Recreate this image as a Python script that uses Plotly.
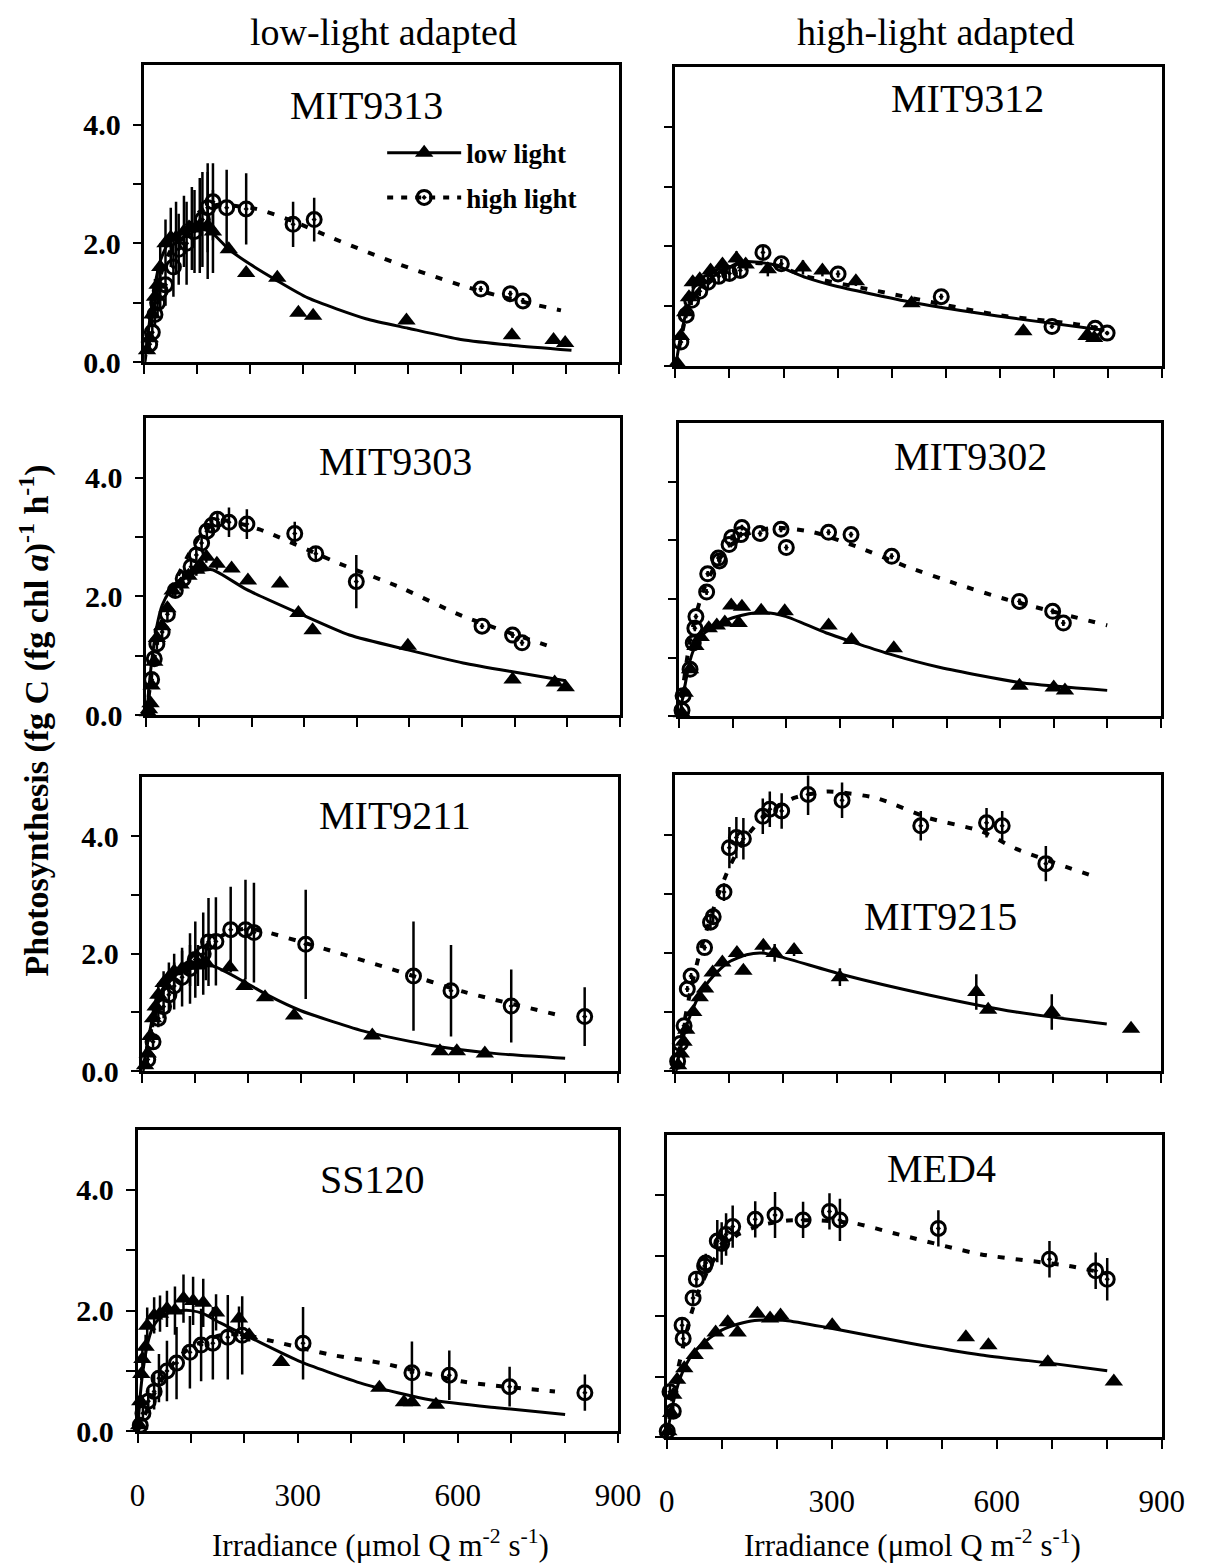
import plotly.graph_objects as go

W, H = 1210, 1567
FONT = "Liberation Serif"

# ---------------- data ----------------
panel_names = ["MIT9313", "MIT9312", "MIT9303", "MIT9302", "MIT9211", "MIT9215", "SS120", "MED4"]
column_headers = ["low-light adapted", "high-light adapted"]
x_tick_vals = [0, 300, 600, 900]
x_tick_labels = ["0", "300", "600", "900"]
y_tick_vals = [0, 2, 4]
y_tick_labels = ["0.0", "2.0", "4.0"]

# MIT9313
mit9313_ll_x = [5, 10, 15, 20, 25, 30, 40, 50, 60, 75, 90, 105, 120, 130, 160, 193, 252, 292, 320, 497, 697, 776, 798]
mit9313_ll_y = [0.2, 0.4, 0.8, 1.1, 1.3, 1.6, 2.0, 2.1, 2.1, 2.2, 2.25, 2.3, 2.3, 2.2, 1.9, 1.5, 1.42, 0.83, 0.78, 0.70, 0.45, 0.37, 0.32]
mit9313_ll_e = [0.05, 0.1, 0.2, 0.3, 0.3, 0.4, 0.4, 0.5, 0.6, 0.6, 0.7, 0.8, 0.9, 0.7, 0, 0, 0, 0, 0, 0, 0, 0, 0]
mit9313_hl_x = [10, 15, 20, 25, 30, 40, 55, 65, 80, 95, 110, 120, 130, 156, 193, 282, 322, 638, 694, 718]
mit9313_hl_y = [0.3, 0.5, 0.8, 1.0, 1.2, 1.3, 1.6, 1.9, 2.0, 2.2, 2.4, 2.6, 2.7, 2.6, 2.58, 2.32, 2.4, 1.23, 1.15, 1.03]
mit9313_hl_e = [0.1, 0.15, 0.2, 0.25, 0.3, 0.35, 0.5, 0.6, 0.7, 0.7, 0.8, 0.75, 0.65, 0.64, 0.6, 0.38, 0.37, 0.05, 0.05, 0.05]
mit9313_llfit_x = [0, 10, 20, 30, 45, 60, 80, 100, 125, 160, 200, 250, 310, 420, 500, 600, 700, 810]
mit9313_llfit_y = [0, 0.7, 1.3, 1.7, 2.0, 2.1, 2.2, 2.25, 2.2, 1.9, 1.65, 1.38, 1.08, 0.73, 0.57, 0.38, 0.28, 0.2]
mit9313_hlfit_x = [0, 10, 20, 30, 45, 60, 80, 100, 120, 140, 212, 280, 359, 482, 605, 700, 790]
mit9313_hlfit_y = [0, 0.6, 1.1, 1.45, 1.8, 2.05, 2.3, 2.5, 2.6, 2.65, 2.58, 2.38, 2.08, 1.65, 1.28, 1.05, 0.87]

# MIT9312
mit9312_ll_x = [3, 10, 18, 25, 32, 45, 65, 87, 113, 130, 171, 236, 272, 334, 437, 644, 761, 775]
mit9312_ll_y = [0.05, 0.5, 0.9, 1.15, 1.4, 1.45, 1.6, 1.7, 1.8, 1.7, 1.62, 1.65, 1.6, 1.42, 1.05, 0.58, 0.5, 0.47]
mit9312_ll_e = [0, 0.05, 0.1, 0.1, 0.1, 0.1, 0.1, 0.1, 0.12, 0.1, 0.12, 0.12, 0.1, 0.08, 0.05, 0, 0, 0]
mit9312_hl_x = [10, 20, 30, 45, 60, 80, 100, 120, 162, 196, 301, 492, 697, 777, 799]
mit9312_hl_y = [0.4, 0.85, 1.1, 1.25, 1.4, 1.5, 1.55, 1.6, 1.9, 1.71, 1.54, 1.16, 0.66, 0.63, 0.55]
mit9312_hl_e = [0.05, 0.05, 0.08, 0.08, 0.1, 0.1, 0.1, 0.1, 0.1, 0.08, 0.06, 0.05, 0.03, 0.05, 0.03]
mit9312_llfit_x = [0, 10, 20, 35, 50, 70, 90, 110, 130, 180, 242, 300, 446, 550, 641, 794]
mit9312_llfit_y = [0, 0.5, 0.9, 1.2, 1.35, 1.5, 1.6, 1.7, 1.75, 1.7, 1.48, 1.33, 1.05, 0.9, 0.78, 0.6]
mit9312_hlfit_x = [0, 10, 20, 35, 50, 70, 90, 110, 130, 180, 242, 366, 592, 741, 800]
mit9312_hlfit_y = [0, 0.45, 0.85, 1.15, 1.3, 1.45, 1.55, 1.65, 1.72, 1.7, 1.5, 1.27, 0.86, 0.7, 0.6]

# MIT9303
mit9303_ll_x = [3, 5, 8, 10, 15, 20, 30, 40, 50, 65, 80, 95, 105, 114, 134, 162, 193, 254, 289, 316, 497, 696, 776, 797]
mit9303_ll_y = [0.05, 0.1, 0.2, 0.5, 0.9, 1.3, 1.5, 1.8, 2.1, 2.2, 2.35, 2.45, 2.5, 2.67, 2.55, 2.47, 2.27, 2.22, 1.72, 1.43, 1.17, 0.6, 0.55, 0.47]
mit9303_ll_e = [0, 0, 0, 0.05, 0.05, 0.1, 0.1, 0.1, 0.1, 0.1, 0.1, 0.1, 0.1, 0.1, 0.1, 0.05, 0, 0, 0, 0, 0, 0, 0, 0]
mit9303_hl_x = [10, 15, 20, 30, 40, 55, 70, 85, 95, 105, 115, 125, 135, 157, 191, 282, 322, 399, 638, 696, 714]
mit9303_hl_y = [0.6, 0.95, 1.2, 1.4, 1.7, 2.1, 2.3, 2.5, 2.7, 2.9, 3.1, 3.2, 3.3, 3.25, 3.22, 3.06, 2.72, 2.25, 1.5, 1.35, 1.22]
mit9303_hl_e = [0.05, 0.05, 0.1, 0.1, 0.1, 0.1, 0.1, 0.1, 0.1, 0.1, 0.1, 0.1, 0.1, 0.25, 0.25, 0.2, 0.1, 0.45, 0.05, 0.05, 0.05]
mit9303_llfit_x = [0, 10, 20, 30, 45, 60, 80, 100, 125, 190, 289, 386, 497, 602, 696, 797]
mit9303_llfit_y = [0, 0.9, 1.5, 1.85, 2.1, 2.25, 2.35, 2.42, 2.45, 2.12, 1.72, 1.35, 1.1, 0.88, 0.73, 0.58]
mit9303_hlfit_x = [0, 10, 20, 30, 45, 60, 80, 100, 125, 150, 215, 368, 478, 601, 776]
mit9303_hlfit_y = [0, 0.7, 1.2, 1.6, 2.0, 2.35, 2.7, 3.0, 3.2, 3.28, 3.13, 2.55, 2.17, 1.67, 1.13]

# MIT9302
mit9302_ll_x = [5, 10, 20, 30, 40, 55, 70, 85, 97, 111, 117, 153, 197, 279, 322, 401, 636, 700, 721]
mit9302_ll_y = [0.05, 0.4, 0.8, 1.2, 1.35, 1.5, 1.55, 1.6, 1.89, 1.59, 1.87, 1.8, 1.79, 1.55, 1.3, 1.16, 0.52, 0.49, 0.44]
mit9302_ll_e = [0, 0.05, 0.05, 0.05, 0.05, 0.05, 0.05, 0.05, 0.05, 0.05, 0.05, 0.05, 0.05, 0.05, 0.05, 0.05, 0, 0, 0]
mit9302_hl_x = [5, 7, 20, 26, 29, 31, 51, 53, 73, 75, 93, 98, 115, 117, 151, 190, 200, 279, 321, 397, 636, 698, 718]
mit9302_hl_y = [0.1, 0.35, 0.8, 1.25, 1.5, 1.7, 2.12, 2.43, 2.7, 2.65, 2.93, 3.05, 3.1, 3.22, 3.12, 3.19, 2.88, 3.14, 3.1, 2.73, 1.96, 1.79, 1.59]
mit9302_hl_e = [0.05] * 23
mit9302_llfit_x = [0, 10, 20, 30, 45, 60, 80, 100, 130, 160, 200, 275, 397, 488, 640, 800]
mit9302_llfit_y = [0, 0.5, 0.95, 1.2, 1.4, 1.5, 1.6, 1.68, 1.75, 1.77, 1.7, 1.42, 1.05, 0.83, 0.57, 0.44]
mit9302_hlfit_x = [0, 10, 20, 30, 45, 60, 80, 100, 130, 178, 251, 336, 426, 518, 609, 800]
mit9302_hlfit_y = [0, 0.7, 1.3, 1.7, 2.15, 2.45, 2.75, 2.95, 3.12, 3.22, 3.14, 2.88, 2.55, 2.26, 2.0, 1.55]

# MIT9211
mit9211_ll_x = [5, 10, 15, 20, 25, 30, 40, 50, 60, 75, 90, 105, 120, 165, 193, 232, 287, 435, 563, 595, 648]
mit9211_ll_y = [0.1, 0.3, 0.6, 0.9, 1.1, 1.3, 1.5, 1.6, 1.7, 1.75, 1.8, 1.8, 1.85, 1.77, 1.45, 1.26, 0.95, 0.61, 0.34, 0.34, 0.3]
mit9211_ll_e = [0.05, 0.1, 0.1, 0.15, 0.15, 0.2, 0.2, 0.25, 0.3, 0.3, 0.35, 0.35, 0.3, 0, 0, 0, 0, 0, 0, 0, 0]
mit9211_hl_x = [10, 20, 30, 40, 50, 60, 75, 90, 100, 115, 125, 139, 167, 195, 211, 309, 513, 584, 698, 837]
mit9211_hl_y = [0.2, 0.5, 0.9, 1.1, 1.3, 1.45, 1.6, 1.75, 1.9, 2.0, 2.2, 2.21, 2.41, 2.41, 2.36, 2.16, 1.62, 1.37, 1.11, 0.93]
mit9211_hl_e = [0.05, 0.1, 0.15, 0.2, 0.3, 0.4, 0.5, 0.6, 0.65, 0.7, 0.75, 0.75, 0.73, 0.85, 0.85, 0.93, 0.93, 0.78, 0.62, 0.5]
mit9211_llfit_x = [0, 10, 20, 30, 45, 60, 80, 100, 133, 195, 238, 300, 424, 547, 670, 800]
mit9211_llfit_y = [0, 0.5, 0.95, 1.25, 1.5, 1.62, 1.72, 1.77, 1.79, 1.51, 1.29, 1.03, 0.67, 0.44, 0.3, 0.22]
mit9211_hlfit_x = [0, 10, 20, 30, 45, 60, 80, 100, 130, 160, 190, 220, 361, 485, 609, 800]
mit9211_hlfit_y = [0, 0.45, 0.85, 1.15, 1.45, 1.65, 1.85, 2.0, 2.2, 2.35, 2.42, 2.4, 2.04, 1.7, 1.35, 0.93]

# MIT9215
mit9215_ll_x = [5, 10, 15, 20, 33, 45, 55, 69, 87, 114, 126, 163, 184, 220, 305, 558, 580, 698, 845]
mit9215_ll_y = [0.1, 0.3, 0.5, 0.7, 1.0, 1.25, 1.4, 1.67, 1.84, 2.0, 1.7, 2.12, 2.0, 2.05, 1.59, 1.34, 1.04, 1.0, 0.72]
mit9215_ll_e = [0, 0, 0, 0, 0.05, 0.05, 0.05, 0.05, 0.05, 0.1, 0.05, 0.1, 0.15, 0.1, 0.15, 0.3, 0.05, 0.3, 0]
mit9215_hl_x = [4, 9, 16, 22, 29, 54, 65, 70, 90, 100, 113, 126, 162, 175, 197, 246, 309, 455, 577, 606, 687]
mit9215_hl_y = [0.17, 0.47, 0.77, 1.39, 1.61, 2.09, 2.52, 2.61, 3.03, 3.78, 3.95, 3.93, 4.31, 4.43, 4.4, 4.68, 4.58, 4.15, 4.2, 4.15, 3.51]
mit9215_hl_e = [0.05, 0.05, 0.05, 0.05, 0.05, 0.05, 0.1, 0.1, 0.15, 0.35, 0.35, 0.35, 0.3, 0.3, 0.3, 0.35, 0.3, 0.25, 0.25, 0.25, 0.3]
mit9215_llfit_x = [0, 10, 20, 30, 45, 60, 80, 100, 132, 160, 197, 307, 470, 632, 800]
mit9215_llfit_y = [0, 0.4, 0.75, 1.0, 1.3, 1.5, 1.7, 1.85, 1.97, 2.0, 1.93, 1.64, 1.29, 1.0, 0.8]
mit9215_hlfit_x = [0, 10, 20, 30, 45, 60, 80, 100, 130, 170, 220, 282, 372, 470, 567, 632, 781]
mit9215_hlfit_y = [0, 0.5, 1.0, 1.45, 2.0, 2.45, 3.0, 3.45, 3.95, 4.35, 4.62, 4.73, 4.62, 4.28, 4.06, 3.76, 3.28]

# SS120
ss120_ll_x = [3, 5, 7, 9, 15, 18, 31, 42, 55, 70, 86, 104, 123, 147, 190, 209, 269, 453, 499, 514, 559]
ss120_ll_y = [0.1, 0.5, 0.95, 1.2, 1.4, 1.75, 1.92, 1.95, 2.03, 2.0, 2.2, 2.16, 2.13, 1.97, 1.87, 1.59, 1.15, 0.72, 0.48, 0.48, 0.44]
ss120_ll_e = [0.05, 0.1, 0.1, 0.2, 0.2, 0.3, 0.3, 0.3, 0.3, 0.4, 0.4, 0.4, 0.4, 0.3, 0.2, 0.1, 0, 0, 0, 0, 0]
ss120_hl_x = [5, 10, 20, 31, 40, 55, 73, 98, 119, 141, 169, 196, 310, 514, 584, 697, 838]
ss120_hl_y = [0.1, 0.3, 0.5, 0.66, 0.88, 1.0, 1.13, 1.31, 1.43, 1.46, 1.56, 1.59, 1.46, 0.97, 0.93, 0.74, 0.64]
ss120_hl_e = [0.05, 0.1, 0.2, 0.3, 0.4, 0.5, 0.6, 0.6, 0.6, 0.6, 0.7, 0.65, 0.6, 0.52, 0.41, 0.33, 0.3]
ss120_llfit_x = [0, 5, 10, 20, 30, 45, 60, 80, 100, 123, 154, 214, 306, 429, 550, 673, 801]
ss120_llfit_y = [0, 0.6, 1.0, 1.5, 1.75, 1.9, 1.97, 2.0, 2.0, 1.95, 1.8, 1.54, 1.15, 0.77, 0.52, 0.39, 0.28]
ss120_hlfit_x = [0, 10, 20, 30, 45, 60, 80, 100, 130, 160, 200, 245, 367, 458, 612, 782]
ss120_hlfit_y = [0, 0.2, 0.4, 0.6, 0.85, 1.05, 1.25, 1.4, 1.52, 1.6, 1.6, 1.51, 1.26, 1.13, 0.82, 0.66]

# MED4
med4_ll_x = [3, 8, 12, 19, 32, 51, 69, 89, 111, 129, 165, 188, 207, 301, 544, 585, 693, 813]
med4_ll_y = [0.1, 0.4, 0.7, 0.95, 1.14, 1.36, 1.52, 1.73, 1.9, 1.73, 2.04, 1.96, 2.01, 1.85, 1.65, 1.52, 1.24, 0.92]
med4_ll_e = [0, 0, 0, 0.05, 0.05, 0.05, 0.05, 0.05, 0.05, 0.05, 0.05, 0.05, 0.05, 0.05, 0, 0, 0.05, 0]
med4_hl_x = [1, 6, 12, 28, 30, 48, 54, 69, 71, 92, 100, 108, 120, 161, 197, 248, 296, 315, 494, 696, 780, 801]
med4_hl_y = [0.1, 0.75, 0.43, 1.85, 1.63, 2.3, 2.61, 2.83, 2.88, 3.24, 3.2, 3.35, 3.48, 3.6, 3.67, 3.59, 3.73, 3.59, 3.45, 2.94, 2.75, 2.61]
med4_hl_e = [0.05, 0.1, 0.1, 0.1, 0.1, 0.1, 0.1, 0.15, 0.15, 0.35, 0.35, 0.35, 0.35, 0.3, 0.38, 0.3, 0.3, 0.35, 0.3, 0.3, 0.3, 0.35]
med4_llfit_x = [0, 10, 20, 30, 45, 60, 80, 100, 130, 160, 216, 299, 445, 572, 700, 801]
med4_llfit_y = [0, 0.5, 0.85, 1.1, 1.35, 1.5, 1.65, 1.77, 1.87, 1.93, 1.93, 1.8, 1.55, 1.36, 1.22, 1.1]
med4_hlfit_x = [0, 10, 20, 30, 45, 60, 80, 100, 130, 170, 220, 280, 344, 413, 572, 732, 801]
med4_hlfit_y = [0, 0.6, 1.1, 1.5, 2.05, 2.45, 2.85, 3.1, 3.35, 3.5, 3.58, 3.58, 3.53, 3.37, 3.02, 2.83, 2.7]

panels = [
    (mit9313_ll_x, mit9313_ll_y, mit9313_ll_e, mit9313_hl_x, mit9313_hl_y, mit9313_hl_e,
     mit9313_llfit_x, mit9313_llfit_y, mit9313_hlfit_x, mit9313_hlfit_y),
    (mit9312_ll_x, mit9312_ll_y, mit9312_ll_e, mit9312_hl_x, mit9312_hl_y, mit9312_hl_e,
     mit9312_llfit_x, mit9312_llfit_y, mit9312_hlfit_x, mit9312_hlfit_y),
    (mit9303_ll_x, mit9303_ll_y, mit9303_ll_e, mit9303_hl_x, mit9303_hl_y, mit9303_hl_e,
     mit9303_llfit_x, mit9303_llfit_y, mit9303_hlfit_x, mit9303_hlfit_y),
    (mit9302_ll_x, mit9302_ll_y, mit9302_ll_e, mit9302_hl_x, mit9302_hl_y, mit9302_hl_e,
     mit9302_llfit_x, mit9302_llfit_y, mit9302_hlfit_x, mit9302_hlfit_y),
    (mit9211_ll_x, mit9211_ll_y, mit9211_ll_e, mit9211_hl_x, mit9211_hl_y, mit9211_hl_e,
     mit9211_llfit_x, mit9211_llfit_y, mit9211_hlfit_x, mit9211_hlfit_y),
    (mit9215_ll_x, mit9215_ll_y, mit9215_ll_e, mit9215_hl_x, mit9215_hl_y, mit9215_hl_e,
     mit9215_llfit_x, mit9215_llfit_y, mit9215_hlfit_x, mit9215_hlfit_y),
    (ss120_ll_x, ss120_ll_y, ss120_ll_e, ss120_hl_x, ss120_hl_y, ss120_hl_e,
     ss120_llfit_x, ss120_llfit_y, ss120_hlfit_x, ss120_hlfit_y),
    (med4_ll_x, med4_ll_y, med4_ll_e, med4_hl_x, med4_hl_y, med4_hl_e,
     med4_llfit_x, med4_llfit_y, med4_hlfit_x, med4_hlfit_y),
]

# ---------------- layout geometry (pixels) ----------------
# (x of 0, x of 900, y of 5 (top), y of 0 (bottom))
boxes = [
    (140, 627, 66, 366), (685, 1184, 68, 370),
    (142, 628, 423, 723), (689, 1183, 428, 724),
    (138, 626, 786, 1083), (685, 1183, 784, 1083),
    (133, 626, 1142, 1447), (676, 1184, 1147, 1453),
]
label_pos = [(368, 107), (985, 100), (398, 467), (988, 462),
             (397, 824), (957, 927), (374, 1192), (958, 1181)]

fig = go.Figure()
layout = dict(
    width=W, height=H, margin=dict(l=0, r=0, t=0, b=0),
    paper_bgcolor="white", plot_bgcolor="white",
    font=dict(family=FONT, color="black"),
    showlegend=True,
)

DASH = "7px,11px"
for i, (lx, ly, le, hx, hy, he, lfx, lfy, hfx, hfy) in enumerate(panels):
    n = i + 1
    xa = "x" if n == 1 else f"x{n}"
    ya = "y" if n == 1 else f"y{n}"
    x0, x1, yt, yb = boxes[i]
    bottom = i >= 6
    left = i % 2 == 0
    layout[f"xaxis{n}" if n > 1 else "xaxis"] = dict(
        domain=[x0 / W, x1 / W], anchor=ya, range=[0, 900],
        showline=True, mirror=True, linecolor="black", linewidth=2.5,
        ticks="outside", ticklen=9, tickwidth=2, tickcolor="black",
        tickvals=x_tick_vals, ticktext=x_tick_labels, showticklabels=bottom,
        minor=dict(tickvals=list(range(0, 901, 100)), ticks="outside", ticklen=9,
                   tickwidth=2, tickcolor="black", showgrid=False),
        tickfont=dict(family=FONT, size=31, color="black"),
        ticklabelstandoff=26,
        showgrid=False, zeroline=False, fixedrange=True,
    )
    layout[f"yaxis{n}" if n > 1 else "yaxis"] = dict(
        domain=[1 - yb / H, 1 - yt / H], anchor=xa, range=[0, 5],
        showline=True, mirror=True, linecolor="black", linewidth=2.5,
        ticks="outside", ticklen=9, tickwidth=2, tickcolor="black",
        tickvals=y_tick_vals, ticktext=y_tick_labels, showticklabels=left,
        minor=dict(tickvals=[0, 1, 2, 3, 4], ticks="outside", ticklen=9,
                   tickwidth=2, tickcolor="black", showgrid=False),
        tickfont=dict(family=FONT, size=30, color="black", weight="bold"),
        ticklabelstandoff=6,
        showgrid=False, zeroline=False, fixedrange=True,
    )
    # fitted curves
    fig.add_trace(go.Scatter(x=lfx, y=lfy, mode="lines", xaxis=xa, yaxis=ya,
                             line=dict(color="black", width=3, shape="spline", smoothing=0.6),
                             showlegend=False, hoverinfo="skip"))
    fig.add_trace(go.Scatter(x=hfx, y=hfy, mode="lines", xaxis=xa, yaxis=ya,
                             line=dict(color="black", width=4, dash=DASH, shape="spline", smoothing=0.6),
                             showlegend=False, hoverinfo="skip"))
    # data points
    fig.add_trace(go.Scatter(x=hx, y=hy, mode="markers", xaxis=xa, yaxis=ya,
                             marker=dict(symbol="circle-open-dot", size=14, color="black",
                                         line=dict(width=3, color="black")),
                             error_y=dict(type="data", array=he, visible=True, color="black",
                                          thickness=2.5, width=0),
                             cliponaxis=False, showlegend=False))
    fig.add_trace(go.Scatter(x=lx, y=ly, mode="markers", xaxis=xa, yaxis=ya,
                             marker=dict(symbol="triangle-up", size=16, color="black"),
                             error_y=dict(type="data", array=le, visible=True, color="black",
                                          thickness=2.5, width=0),
                             cliponaxis=False, showlegend=False))

# legend entries (first panel)
fig.add_trace(go.Scatter(x=[None], y=[None], mode="lines+markers", name="low light",
                         line=dict(color="black", width=3),
                         marker=dict(symbol="triangle-up", size=16, color="black"),
                         legend="legend", showlegend=True))
fig.add_trace(go.Scatter(x=[None], y=[None], mode="lines+markers", name="high light",
                         line=dict(color="black", width=4, dash="6px,8px"),
                         marker=dict(symbol="circle-open-dot", size=14, color="black",
                                     line=dict(width=3, color="black")),
                         legend="legend2", showlegend=True))
leg_common = dict(xanchor="left", yanchor="middle", bgcolor="rgba(0,0,0,0)",
                  borderwidth=0, itemwidth=74,
                  font=dict(family=FONT, size=27, color="black", weight="bold"))
layout["legend"] = dict(x=384 / W, y=1 - 155 / H, **leg_common)
layout["legend2"] = dict(x=384 / W, y=1 - 200 / H, **leg_common)

annotations = []
for i, name in enumerate(panel_names):
    cx, cy = label_pos[i]
    annotations.append(dict(x=cx / W, y=1 - cy / H, xref="paper", yref="paper", text=name,
                            showarrow=False, xanchor="center", yanchor="middle",
                            font=dict(family=FONT, size=40, color="black")))
for txt, cx in zip(column_headers, [385, 952]):
    annotations.append(dict(x=cx / W, y=1 - 32 / H, xref="paper", yref="paper", text=txt,
                            showarrow=False, xanchor="center", yanchor="middle",
                            font=dict(family=FONT, size=38, color="black")))
for cx in [382, 928]:
    annotations.append(dict(x=cx / W, y=1 - 1560 / H, xref="paper", yref="paper",
                            text="Irradiance (\u03bcmol Q m<sup>-2</sup> s<sup>-1</sup>)",
                            showarrow=False, xanchor="center", yanchor="middle",
                            font=dict(family=FONT, size=31, color="black")))
annotations.append(dict(x=27 / W, y=1 - 728 / H, xref="paper", yref="paper",
                        text="Photosynthesis (fg C (fg chl <i>a</i>)<sup>-1</sup> h<sup>-1</sup>)",
                        showarrow=False, textangle=-90, xanchor="center", yanchor="middle",
                        font=dict(family=FONT, size=34, color="black", weight="bold")))
layout["annotations"] = annotations

fig.update_layout(**layout)
fig.write_html("out.html")
